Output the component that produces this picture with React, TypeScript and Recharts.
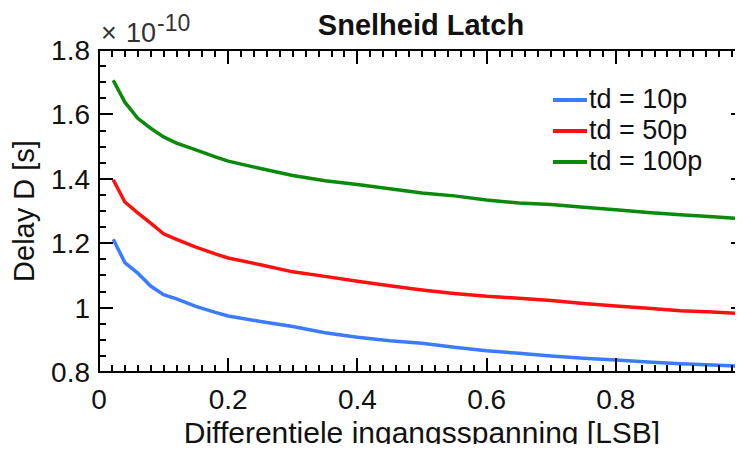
import React from "react";
import { LineChart, Line, XAxis, YAxis, Legend, ReferenceArea } from "recharts";

// Differential input voltage [LSB]
const inputLsb = [
  0.022, 0.04, 0.06, 0.08, 0.1, 0.12, 0.15, 0.18, 0.2, 0.25, 0.3, 0.35, 0.4,
  0.45, 0.5, 0.55, 0.6, 0.65, 0.7, 0.75, 0.8, 0.85, 0.9, 0.95, 1.0,
];

// Delay in units of 1e-10 s
const delayTd10 = [
  1.212, 1.14, 1.107, 1.067, 1.04, 1.027, 1.004, 0.985, 0.974, 0.957, 0.941,
  0.922, 0.908, 0.897, 0.889, 0.877, 0.866, 0.858, 0.85, 0.843, 0.837, 0.831,
  0.826, 0.822, 0.817,
];
const delayTd50 = [
  1.397, 1.328, 1.294, 1.262, 1.229, 1.212, 1.188, 1.167, 1.154, 1.133, 1.111,
  1.097, 1.082, 1.068, 1.055, 1.044, 1.035, 1.029, 1.022, 1.013, 1.005, 0.998,
  0.99, 0.986, 0.981,
];
const delayTd100 = [
  1.706, 1.638, 1.588, 1.557, 1.53, 1.511, 1.49, 1.468, 1.455, 1.432, 1.41,
  1.394, 1.382, 1.369, 1.356, 1.347, 1.334, 1.325, 1.32, 1.312, 1.304, 1.295,
  1.288, 1.282, 1.276,
];

const seriesNames = ["td = 10p", "td = 50p", "td = 100p"];

// minor ticks every 0.02 (x) and 0.05 (y), labelled every 0.2
const xTicks = Array.from({ length: 51 }, (_, i) => Math.round(i * 2) / 100);
const yTicks = Array.from({ length: 21 }, (_, i) => Math.round(80 + i * 5) / 100);

const data = inputLsb.map((x, i) => ({
  x,
  td10: delayTd10[i],
  td50: delayTd50[i],
  td100: delayTd100[i],
}));

const FONT = "'Liberation Sans', Arial, sans-serif";
const AXIS = "#000000";
const AXIS_W = 2;
const TICK_W = 2;
const MAJOR = 14;
const MINOR = 7;

const isMajor = (v: number) => Math.abs(v * 5 - Math.round(v * 5)) < 1e-6;
const fmt = (v: number) => String(Math.round(v * 10) / 10);

const BottomTick = ({ x, y, payload }: any) => {
  const v = payload.value;
  const major = isMajor(v);
  return (
    <g>
      <path d={`M${x},${y}V${y - (major ? MAJOR : MINOR)}`} stroke={AXIS} strokeWidth={TICK_W} fill="none" shapeRendering="crispEdges" />
      {major && (
        <text x={x} y={y + 37} textAnchor="middle" fontSize={28} fontFamily={FONT} fill="#111">
          {fmt(v)}
        </text>
      )}
    </g>
  );
};

const TopTick = ({ x, y, payload }: any) => (
  <path d={`M${x},${y}V${y + (isMajor(payload.value) ? MAJOR : MINOR)}`} stroke={AXIS} strokeWidth={TICK_W} fill="none" shapeRendering="crispEdges" />
);

const LeftTick = ({ x, y, payload }: any) => {
  const v = payload.value;
  const major = isMajor(v);
  return (
    <g>
      <path d={`M${x},${y}H${x + (major ? MAJOR : MINOR)}`} stroke={AXIS} strokeWidth={TICK_W} fill="none" shapeRendering="crispEdges" />
      {major && (
        <text x={x - 9} y={y} dy="0.36em" textAnchor="end" fontSize={28} fontFamily={FONT} fill="#111">
          {fmt(v)}
        </text>
      )}
    </g>
  );
};

const RightTick = ({ x, y, payload }: any) => (
  <path d={`M${x},${y}H${x - (isMajor(payload.value) ? MAJOR : MINOR)}`} stroke={AXIS} strokeWidth={TICK_W} fill="none" shapeRendering="crispEdges" />
);

const LegendBox = ({ payload }: any) => {
  const items = [...(payload || [])].sort(
    (a: any, b: any) => seriesNames.indexOf(a.value) - seriesNames.indexOf(b.value)
  );
  return (
    <div style={{ fontFamily: FONT }}>
      {items.map((e: any) => (
        <div key={e.value} style={{ display: "flex", alignItems: "center", height: 31 }}>
          <span style={{ display: "inline-block", width: 34, height: 4, background: e.color }} />
          <span style={{ marginLeft: 2, fontSize: 27, color: "#111", whiteSpace: "nowrap" }}>{e.value}</span>
        </div>
      ))}
    </div>
  );
};

const axisLine = { stroke: AXIS, strokeWidth: AXIS_W, shapeRendering: "crispEdges" };

export default function App() {
  return (
    <div
      style={{
        position: "relative",
        margin: -8,
        width: 743,
        height: 452,
        overflow: "hidden",
        background: "#fff",
        fontFamily: FONT,
      }}
    >
      <LineChart width={760} height={452} data={data} margin={{ top: 0, right: 0, bottom: 0, left: 0 }}>
        <XAxis
          dataKey="x"
          type="number"
          domain={[0, 1]}
          allowDataOverflow
          ticks={xTicks}
          interval={0}
          tick={<BottomTick />}
          tickLine={false}
          tickSize={0}
          tickMargin={0}
          height={80}
          axisLine={axisLine}
          label={{
            value: "Differentiele ingangsspanning [LSB]",
            position: "insideBottom",
            offset: 9,
            fontSize: 30,
            fontFamily: FONT,
            fill: "#111",
          }}
        />
        <XAxis
          xAxisId="top"
          orientation="top"
          dataKey="x"
          type="number"
          domain={[0, 1]}
          allowDataOverflow
          ticks={xTicks}
          interval={0}
          tick={<TopTick />}
          tickLine={false}
          tickSize={0}
          tickMargin={0}
          height={50}
          axisLine={axisLine}
        />
        <YAxis
          type="number"
          domain={[0.8, 1.8]}
          allowDataOverflow
          ticks={yTicks}
          interval={0}
          tick={<LeftTick />}
          tickLine={false}
          tickSize={0}
          tickMargin={0}
          width={99}
          axisLine={axisLine}
          label={{
            value: "Delay D [s]",
            angle: -90,
            position: "insideLeft",
            offset: 24,
            fontSize: 29,
            fontFamily: FONT,
            fill: "#111",
            style: { textAnchor: "middle" },
          }}
        />
        <YAxis
          yAxisId="right"
          orientation="right"
          type="number"
          domain={[0.8, 1.8]}
          allowDataOverflow
          ticks={yTicks}
          interval={0}
          tick={<RightTick />}
          tickLine={false}
          tickSize={0}
          tickMargin={0}
          width={15}
          axisLine={axisLine}
        />
        <ReferenceArea
          x1={0}
          x2={1}
          y1={0.8}
          y2={1.8}
          fill="none"
          fillOpacity={0}
          stroke={AXIS}
          strokeWidth={AXIS_W}
          strokeOpacity={1}
          ifOverflow="visible"
        />
        <Legend
          layout="vertical"
          align="center"
          verticalAlign="middle"
          wrapperStyle={{ left: 553, top: 84, width: "auto" }}
          content={<LegendBox />}
        />
        <Line dataKey="td10" name={seriesNames[0]} stroke="#3b7bff" strokeWidth={3.5} dot={false} type="linear" isAnimationActive={false} />
        <Line dataKey="td50" name={seriesNames[1]} stroke="#ff1010" strokeWidth={3.5} dot={false} type="linear" isAnimationActive={false} />
        <Line dataKey="td100" name={seriesNames[2]} stroke="#0a8a0a" strokeWidth={3.5} dot={false} type="linear" isAnimationActive={false} />
      </LineChart>
      <svg
        width={743}
        height={452}
        style={{ position: "absolute", left: 0, top: 0, pointerEvents: "none" }}
      >
        <text x={421} y={35} textAnchor="middle" fontSize={29} fontWeight="bold" fontFamily={FONT} fill="#111">
          Snelheid Latch
        </text>
        <text x={101} y={42} fontSize={27} fontFamily={FONT} fill="#333">
          ×
        </text>
        <text x={126} y={42} fontSize={27} fontFamily={FONT} fill="#333">
          10
        </text>
        <text x={157} y={31} fontSize={23} fontFamily={FONT} fill="#333">
          -10
        </text>
      </svg>
    </div>
  );
}
